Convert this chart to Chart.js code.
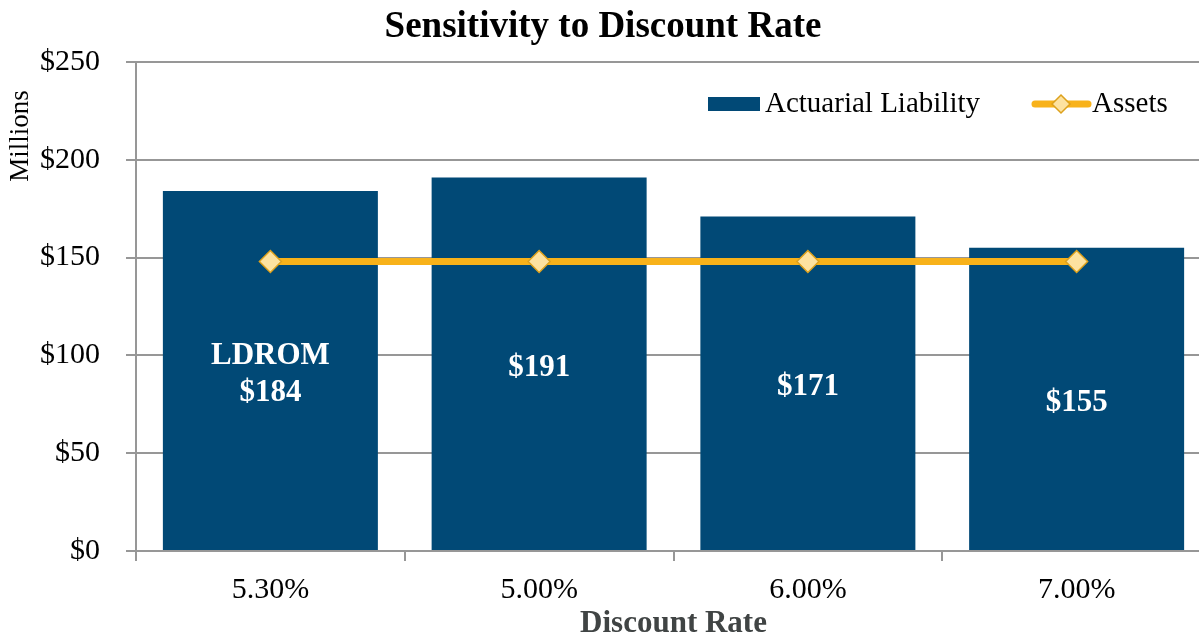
<!DOCTYPE html>
<html>
<head>
<meta charset="utf-8">
<script src="https://cdn.jsdelivr.net/npm/chart.js@4"></script>
<style>
  html, body { margin: 0; padding: 0; background: #ffffff; overflow: hidden; }
  #wrap { width: 1215px; height: 645px; }
</style>
</head>
<body>
<div id="wrap"><canvas id="chart" width="1215" height="645"></canvas></div>
<script>
// Discount rate scenarios and results (in $ millions)
const rates = ['5.30%', '5.00%', '6.00%', '7.00%'];
const liability = [184, 191, 171, 155];
const assets = [148, 148, 148, 148];
const barCaptions = ['LDROM', '', '', ''];
const yTickStep = 50;
const yMax = 250;

const SERIF = '"Liberation Serif", "Times New Roman", serif';
const BAR_COLOR = '#014976';
const LINE_COLOR = '#F8B21A';
const GRID_COLOR = '#979797';

const findDataset = (chart, type) => chart.data.datasets.findIndex(d => d.type === type);

// Value captions centred inside each bar
const barLabelPlugin = {
  id: 'barLabels',
  afterDatasetsDraw(chart) {
    const meta = chart.getDatasetMeta(findDataset(chart, 'bar'));
    const ctx = chart.ctx;
    ctx.save();
    ctx.fillStyle = '#ffffff';
    ctx.font = 'bold 31px ' + SERIF;
    ctx.textAlign = 'center';
    ctx.textBaseline = 'middle';
    meta.data.forEach((bar, i) => {
      const lines = [];
      if (barCaptions[i]) lines.push(barCaptions[i]);
      lines.push('$' + liability[i]);
      const mid = (bar.y + bar.base) / 2 + 4;
      const lh = 37;
      const start = mid - (lines.length - 1) * lh / 2;
      lines.forEach((t, k) => ctx.fillText(t, bar.x, start + k * lh));
    });
    ctx.restore();
  }
};

// Title, legend inside the plot area, and the rotated unit caption
const overlayPlugin = {
  id: 'overlay',
  afterDraw(chart) {
    const ctx = chart.ctx;
    const barDs = chart.data.datasets[findDataset(chart, 'bar')];
    const lineDs = chart.data.datasets[findDataset(chart, 'line')];
    ctx.save();

    ctx.fillStyle = '#000000';
    ctx.textAlign = 'center';
    ctx.textBaseline = 'middle';
    ctx.font = 'bold 37px ' + SERIF;
    ctx.fillText('Sensitivity to Discount Rate', 603, 27);

    ctx.font = '29px ' + SERIF;
    ctx.textAlign = 'left';
    const ly = 104;
    // bar series key
    ctx.fillStyle = barDs.backgroundColor;
    ctx.fillRect(708, ly - 7, 52, 14);
    ctx.fillStyle = '#000000';
    ctx.fillText(barDs.label, 765, ly);
    // line series key
    ctx.strokeStyle = lineDs.borderColor;
    ctx.lineWidth = 7;
    ctx.lineCap = 'round';
    ctx.beginPath();
    ctx.moveTo(1035, ly);
    ctx.lineTo(1088, ly);
    ctx.stroke();
    ctx.fillStyle = lineDs.pointBackgroundColor;
    ctx.strokeStyle = lineDs.pointBorderColor;
    ctx.lineWidth = 1.5;
    ctx.beginPath();
    ctx.moveTo(1061, ly - 9);
    ctx.lineTo(1070, ly);
    ctx.lineTo(1061, ly + 9);
    ctx.lineTo(1052, ly);
    ctx.closePath();
    ctx.fill();
    ctx.stroke();
    ctx.fillStyle = '#000000';
    ctx.fillText(lineDs.label, 1092, ly);

    // unit caption
    ctx.translate(21, 136);
    ctx.rotate(-Math.PI / 2);
    ctx.textAlign = 'center';
    ctx.font = '27px ' + SERIF;
    ctx.fillText('Millions', 0, 0);
    ctx.restore();
  }
};

new Chart(document.getElementById('chart'), {
  data: {
    labels: rates,
    datasets: [
      {
        type: 'line',
        label: 'Assets',
        data: assets,
        borderColor: LINE_COLOR,
        borderWidth: 7,
        pointStyle: 'rectRot',
        pointRadius: 11,
        pointBackgroundColor: '#FDE2A0',
        pointBorderColor: '#DDA11C',
        pointBorderWidth: 1.5,
        order: 0
      },
      {
        type: 'bar',
        label: 'Actuarial Liability',
        data: liability,
        backgroundColor: BAR_COLOR,
        categoryPercentage: 0.8,
        barPercentage: 1.0,
        order: 1
      }
    ]
  },
  options: {
    responsive: false,
    animation: false,
    layout: { autoPadding: false, padding: { left: 0, right: 4, top: 62, bottom: 0 } },
    plugins: {
      legend: { display: false },
      tooltip: { enabled: false },
      title: { display: false }
    },
    scales: {
      x: {
        offset: true,
        grid: { display: true, drawOnChartArea: false, color: GRID_COLOR, lineWidth: 2, tickLength: 10, offset: true },
        border: { color: GRID_COLOR, width: 2 },
        ticks: { color: '#000000', font: { family: SERIF, size: 30 }, padding: 11, maxRotation: 0 },
        title: {
          display: true,
          text: 'Discount Rate',
          color: '#404444',
          font: { family: SERIF, size: 31, weight: 'bold', lineHeight: 1.2 },
          padding: { top: 0, bottom: 2 }
        },
        afterFit(scale) { scale.height = 94; }
      },
      y: {
        min: 0,
        max: yMax,
        grid: { color: GRID_COLOR, lineWidth: 2, tickLength: 10 },
        border: { color: GRID_COLOR, width: 2 },
        ticks: {
          stepSize: yTickStep,
          color: '#000000',
          font: { family: SERIF, size: 30 },
          padding: 26,
          callback: v => '$' + v
        },
        afterFit(scale) { scale.width = 136; }
      }
    }
  },
  plugins: [barLabelPlugin, overlayPlugin]
});
</script>
</body>
</html>
